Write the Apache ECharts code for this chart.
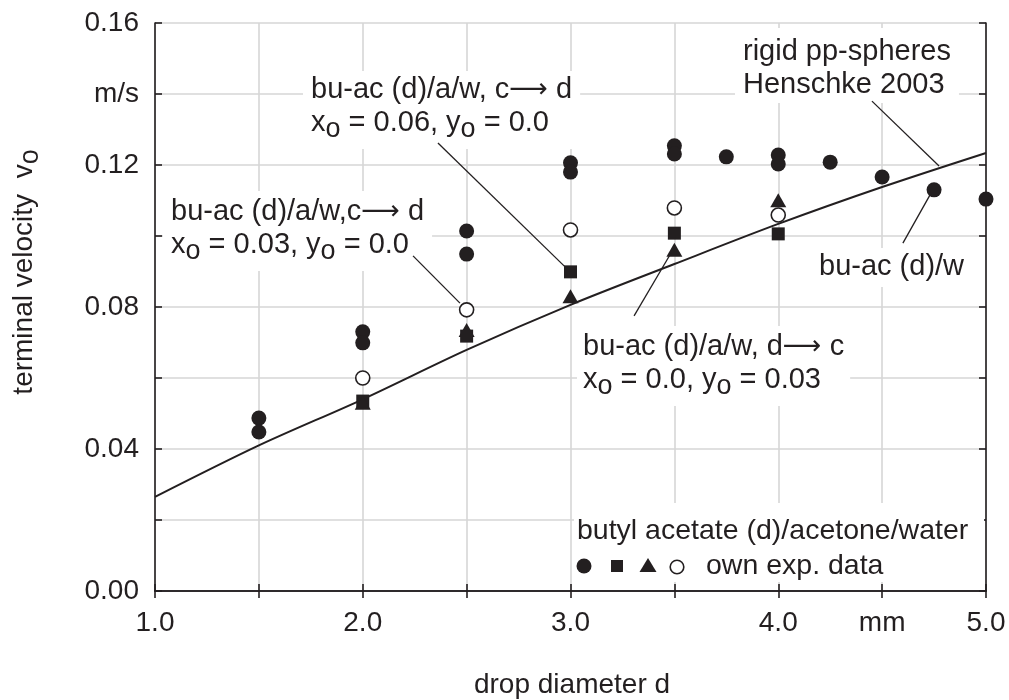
<!DOCTYPE html>
<html>
<head>
<meta charset="utf-8">
<script src="https://cdn.jsdelivr.net/npm/echarts@6/dist/echarts.min.js"></script>
<style>
html,body{margin:0;padding:0;background:#fff;}
#chart{width:1009px;height:700px;}
</style>
</head>
<body>
<div id="chart"></div>
<script>
// ---- data ----
const henschkeX = [1.0, 1.5, 2.0, 2.5, 3.0, 3.5, 4.0, 4.5, 5.0];
const henschkeY = [0.0265, 0.0410, 0.0540, 0.0679, 0.0806, 0.0921, 0.1034, 0.1138, 0.1234];

const circleX = [1.5, 1.5, 2.0, 2.0, 2.5, 2.5, 3.0, 3.0, 3.5, 3.5, 3.75, 4.0, 4.0, 4.25, 4.5, 4.75, 5.0];
const circleY = [0.0487, 0.0448, 0.0730, 0.0699, 0.1014, 0.0949, 0.1206, 0.1180, 0.1254, 0.1231, 0.1223, 0.1228, 0.1203, 0.1208, 0.1166, 0.1130, 0.1104];

const squareX = [2.0, 2.5, 3.0, 3.5, 4.0];
const squareY = [0.0535, 0.0718, 0.0899, 0.1008, 0.1006];

const triangleX = [2.0, 2.5, 3.0, 3.5, 4.0];
const triangleY = [0.0530, 0.0735, 0.0830, 0.0961, 0.1101];

const openX = [2.0, 2.5, 3.0, 3.5, 4.0];
const openY = [0.0600, 0.0792, 0.1017, 0.1079, 0.1059];

const xTickValues = [1.0, 2.0, 3.0, 4.0, 4.5, 5.0];
const xTickLabels = ['1.0', '2.0', '3.0', '4.0', 'mm', '5.0'];
const yTickValues = [0.00, 0.04, 0.08, 0.12, 0.14, 0.16];
const yTickLabels = ['0.00', '0.04', '0.08', '0.12', 'm/s', '0.16'];

// leader lines of annotations, in data coordinates [from, to]
const leaders = [
  [[4.451, 0.1380], [4.774, 0.1197]],
  [[2.362, 0.1262], [2.974, 0.0913]],
  [[2.242, 0.0944], [2.468, 0.0811]],
  [[3.306, 0.0775], [3.484, 0.0952]],
  [[4.600, 0.0980], [4.730, 0.1115]]
];

// ---- chart ----
const C = '#231f20';
const FONT = 'Liberation Sans, Arial, Helvetica, sans-serif';
const FS = 28;
const FA = 29;
const zip = (xs, ys) => xs.map((x, i) => [x, ys[i]]);
const lookup = (vals, labels) => v => {
  const i = vals.findIndex(t => Math.abs(t - v) < 1e-9);
  return i >= 0 ? labels[i] : '';
};

const R = {
  n: {fontFamily: FONT, fontSize: FA, lineHeight: 33, fill: C},
  l: {fontFamily: FONT, fontSize: 28.5, lineHeight: 33, fill: C},
  t: {fontFamily: FONT, fontSize: FS, lineHeight: 33, fill: C},
  s: {fontFamily: FONT, fontSize: 27, lineHeight: 33, padding: [14, 0, 0, 0], fill: C},
  ar: {fontFamily: 'DejaVu Sans', fontSize: 27, lineHeight: 33, fill: C}
};

function note(left, top, text, pad) {
  return {
    type: 'text', left: left, top: top, z: 1,
    style: {text: text, rich: R, backgroundColor: '#fff', padding: pad, fill: C}
  };
}

const axisCommon = {
  axisLine: {show: true, lineStyle: {color: C, width: 1.6}},
  axisTick: {show: true, inside: true, length: 7, lineStyle: {color: C, width: 1.6}}
};

const chart = echarts.init(document.getElementById('chart'), null, {renderer: 'canvas'});
chart.setOption({
  animation: false,
  backgroundColor: '#fff',
  grid: {left: 155, right: 23, top: 23, bottom: 109, containLabel: false, outerBoundsMode: 'none'},
  xAxis: [
    Object.assign({
      type: 'value', min: 1, max: 5, interval: 0.5, position: 'bottom',
      axisLabel: {formatter: lookup(xTickValues, xTickLabels), fontFamily: FONT, fontSize: FS, color: C, margin: 18, showMinLabel: true, showMaxLabel: true},
      splitLine: {show: true, lineStyle: {color: '#d6d6d6', width: 1.6}}
    }, axisCommon),
    Object.assign({
      type: 'value', min: 1, max: 5, interval: 0.5, position: 'top',
      axisLabel: {show: false}, splitLine: {show: false}
    }, axisCommon)
  ],
  yAxis: [
    Object.assign({
      type: 'value', min: 0, max: 0.16, interval: 0.02, position: 'left',
      axisLabel: {formatter: lookup(yTickValues, yTickLabels), fontFamily: FONT, fontSize: FS, color: C, margin: 16},
      splitLine: {show: true, lineStyle: {color: '#d6d6d6', width: 1.6}}
    }, axisCommon),
    Object.assign({
      type: 'value', min: 0, max: 0.16, interval: 0.02, position: 'right',
      axisLabel: {show: false}, splitLine: {show: false}
    }, axisCommon)
  ],
  series: [
    {
      type: 'line', name: 'Henschke 2003', data: zip(henschkeX, henschkeY),
      smooth: 0.3, showSymbol: false, z: 3,
      lineStyle: {color: C, width: 2},
      markLine: {
        silent: true, symbol: ['none', 'none'], label: {show: false},
        lineStyle: {color: C, width: 1.3, type: 'solid'},
        emphasis: {disabled: true},
        data: leaders.map(l => [{coord: l[0]}, {coord: l[1]}])
      }
    },
    {type: 'scatter', name: 'circle', data: zip(circleX, circleY), symbol: 'circle', symbolSize: 15, z: 4, itemStyle: {color: C, opacity: 1}},
    {type: 'scatter', name: 'square', data: zip(squareX, squareY), symbol: 'rect', symbolSize: 13, z: 4, itemStyle: {color: C, opacity: 1}},
    {type: 'scatter', name: 'triangle', data: zip(triangleX, triangleY), symbol: 'triangle', symbolSize: [16, 14], z: 4, itemStyle: {color: C, opacity: 1}},
    {type: 'scatter', name: 'open', data: zip(openX, openY), symbol: 'circle', symbolSize: 14, z: 5, itemStyle: {color: '#fff', borderColor: C, borderWidth: 1.6, opacity: 1}}
  ],
  graphic: [
    note(735, 28, '{n|rigid pp-spheres}\n{n|Henschke 2003}', [7, 8, 2, 8]),
    note(303, 71, '{n|bu-ac (d)/a/w, c}{ar|⟶}{n| d}\n{n|x}{s|o}{n| = 0.06, y}{s|o}{n| = 0.0}', [2, 8, 10, 8]),
    note(163, 191, '{n|bu-ac (d)/a/w,c}{ar|⟶}{n| d}\n{n|x}{s|o}{n| = 0.03, y}{s|o}{n| = 0.0}', [4, 8, 10, 8]),
    note(577, 326, '{n|bu-ac (d)/a/w, d}{ar|⟶}{n| c}\n{n|x}{s|o}{n| = 0.0, y}{s|o}{n| = 0.03}', [4, 6, 10, 6]),
    note(811, 248, '{n|bu-ac (d)/w}', [2, 8, 4, 8]),
    {type: 'rect', z: 1, shape: {x: 574, y: 503, width: 410, height: 79}, style: {fill: '#fff'}},
    {type: 'text', left: 577, top: 517, z: 3, style: {text: '{l|butyl acetate (d)/acetone/water}', rich: R}},
    {type: 'text', left: 706, top: 552, z: 3, style: {text: '{l|own exp. data}', rich: R}},
    {type: 'circle', z: 3, shape: {cx: 584, cy: 566, r: 7.5}, style: {fill: C}},
    {type: 'rect', z: 3, shape: {x: 611, y: 560, width: 12, height: 12}, style: {fill: C}},
    {type: 'polygon', z: 3, shape: {points: [[648, 558], [656.5, 572], [639.5, 572]]}, style: {fill: C}},
    {type: 'circle', z: 3, shape: {cx: 677, cy: 567, r: 6.8}, style: {fill: '#fff', stroke: C, lineWidth: 1.6}},
    {type: 'text', z: 3, x: 24, y: 272, rotation: Math.PI / 2,
     style: {text: '{t|terminal velocity  v}{s|o}', rich: R, align: 'center', verticalAlign: 'middle', textAlign: 'center', textVerticalAlign: 'middle'}},
    {type: 'text', z: 3, x: 572, y: 685,
     style: {text: '{t|drop diameter d}', rich: R, align: 'center', verticalAlign: 'middle', textAlign: 'center', textVerticalAlign: 'middle'}}
  ]
});
</script>
</body>
</html>
